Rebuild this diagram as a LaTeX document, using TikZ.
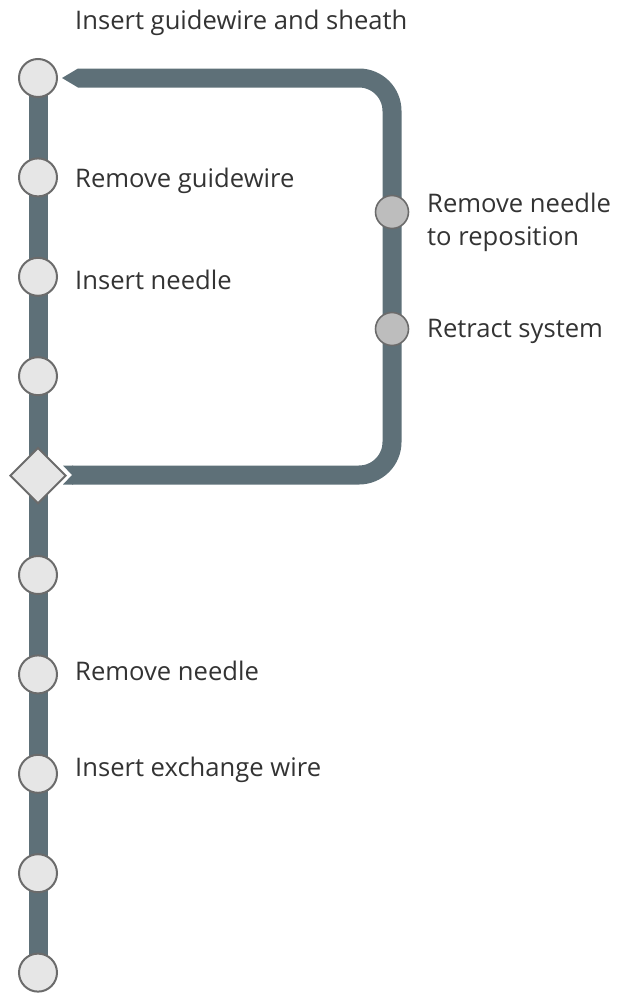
\documentclass[tikz,border=0pt]{standalone}
\usepackage{fontspec}
\setmainfont{Open Sans}
\usetikzlibrary{shapes.geometric}
\definecolor{barc}{HTML}{5E7078}
\definecolor{nodefill}{HTML}{E6E6E6}
\definecolor{nodeline}{HTML}{6B6B6B}
\definecolor{sidefill}{HTML}{BDBDBD}
\definecolor{txt}{HTML}{333333}
\tikzset{
  bar/.style={draw=barc, line width=19pt},
  stepnode/.style={circle, fill=nodefill, draw=nodeline, line width=2pt, minimum size=38pt, inner sep=0pt},
  sidenode/.style={circle, fill=sidefill, draw=nodeline, line width=1.6pt, minimum size=33pt, inner sep=0pt},
  decnode/.style={diamond, fill=nodefill, draw=nodeline, line width=2pt, minimum width=56pt, minimum height=56pt, inner sep=0pt},
  lbl/.style={anchor=west, text=txt, font=\fontsize{25.6}{33}\selectfont, inner sep=0pt, align=left},
}
\begin{document}
\begin{tikzpicture}[x=1pt,y=-1pt]
\useasboundingbox (0,0) rectangle (631,993);
% positions
\foreach \i in {0,...,9} {
  \coordinate (p\i) at (38,{78+99.4*\i});
}
\coordinate (tr) at (392,78);
\coordinate (br) at (392,475);
\coordinate (tipend) at (78,78);
\coordinate (notchend) at (72,475);
% main vertical line
\draw[bar] (p0) -- (p9);
% loop
\draw[bar, rounded corners=33pt] (notchend) -- (br) -- (tr) -- (tipend);
\fill[barc] (62,78) -- (78,68.5) -- (78,87.5) -- cycle;
\fill[barc] (63,465.5) -- (73,465.5) -- (73,484.5) -- (63,484.5) -- (72,475) -- cycle;
% nodes
\node[stepnode] (n0) at (p0) {};
\node[stepnode] (n1) at (p1) {};
\node[stepnode] (n2) at (p2) {};
\node[stepnode] (n3) at (p3) {};
\node[decnode] (n4) at (p4) {};
\node[stepnode] (n5) at (p5) {};
\node[stepnode] (n6) at (p6) {};
\node[stepnode] (n7) at (p7) {};
\node[stepnode] (n8) at (p8) {};
\node[stepnode] (n9) at (p9) {};
\node[sidenode] (s1) at (392,212) {};
\node[sidenode] (s2) at (392,329) {};
% labels
\node[lbl] (t0) at (75,23) {Insert guidewire and sheath};
\node[lbl] (t1) at (75,181) {Remove guidewire};
\node[lbl] (t2) at (75,280) {Insert needle};
\node[lbl] (t6) at (75,671) {Remove needle};
\node[lbl] (t7) at (75,770) {Insert exchange wire};
\node[lbl] (ts1) at (427,222) {Remove needle\\to reposition};
\node[lbl] (ts2) at (427,331) {Retract system};
\end{tikzpicture}
\end{document}
